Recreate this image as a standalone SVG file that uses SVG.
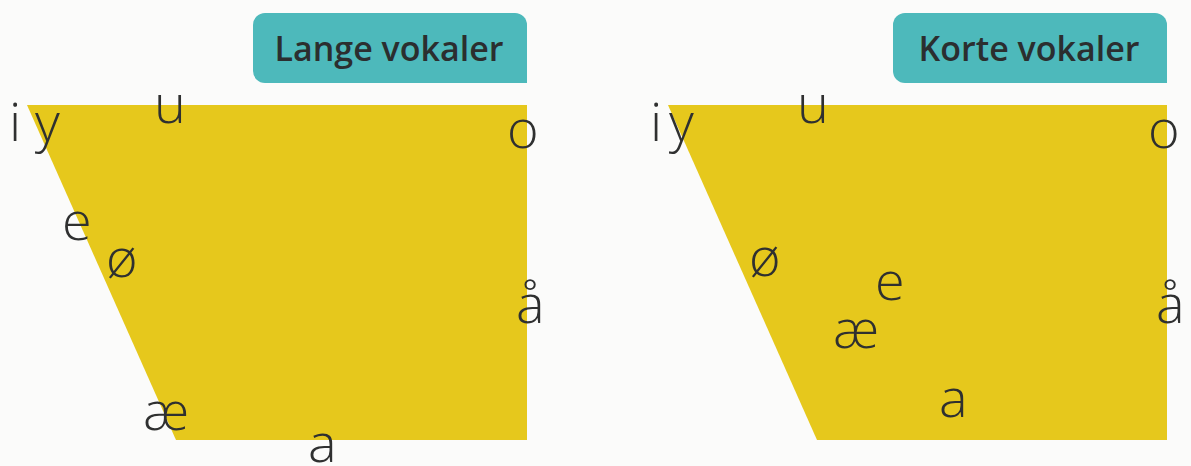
<svg xmlns="http://www.w3.org/2000/svg" width="1191" height="466" viewBox="0 0 1191 466">
  <style>
    .field { fill: #E6C81C; }
    .tag { fill: #4DB9BB; }
    .tagtext { font-family: "Open Sans", "Liberation Sans", sans-serif; font-weight: 600; font-size: 34px; fill: #2B2E2F; text-anchor: middle; }
    .v { font-family: "Open Sans", "Liberation Sans", sans-serif; font-weight: 300; font-size: 54px; fill: #2F3030; }
  </style>
  <rect width="1191" height="466" fill="#FBFBFA"/>
  <g id="lange">
    <g id="lange-field">
      <polygon class="field" points="27,105 527,105 527,440 176,440"/>
    </g>
    <g id="lange-label">
      <path class="tag" d="M265,13 H515 A12,12 0 0 1 527,25 V83 H265 A12,12 0 0 1 253,71 V25 A12,12 0 0 1 265,13 Z"/>
      <text class="tagtext" x="389" y="61">Lange vokaler</text>
    </g>
    <g id="lange-vowels">
      <text class="v" x="9" y="141">i</text>
      <text class="v" x="35" y="141">y</text>
      <text class="v" x="154" y="123">u</text>
      <text class="v" x="507" y="148">o</text>
      <text class="v" x="62" y="240">e</text>
      <text class="v" x="106" y="277">ø</text>
      <text class="v" x="516" y="323">å</text>
      <text class="v" x="143" y="430">æ</text>
      <text class="v" x="308" y="462">a</text>
    </g>
  </g>
  <g id="korte">
    <g id="korte-field">
      <polygon class="field" points="668,105 1167,105 1167,440 817,440"/>
    </g>
    <g id="korte-label">
      <path class="tag" d="M905,13 H1155 A12,12 0 0 1 1167,25 V83 H905 A12,12 0 0 1 893,71 V25 A12,12 0 0 1 905,13 Z"/>
      <text class="tagtext" x="1029" y="61">Korte vokaler</text>
    </g>
    <g id="korte-vowels">
      <text class="v" x="650" y="141">i</text>
      <text class="v" x="669" y="141">y</text>
      <text class="v" x="797" y="123">u</text>
      <text class="v" x="1148" y="148">o</text>
      <text class="v" x="749" y="276">ø</text>
      <text class="v" x="875" y="300">e</text>
      <text class="v" x="833" y="348">æ</text>
      <text class="v" x="939" y="417">a</text>
      <text class="v" x="1156" y="323">å</text>
    </g>
  </g>
  <g id="connectors"/>
</svg>
